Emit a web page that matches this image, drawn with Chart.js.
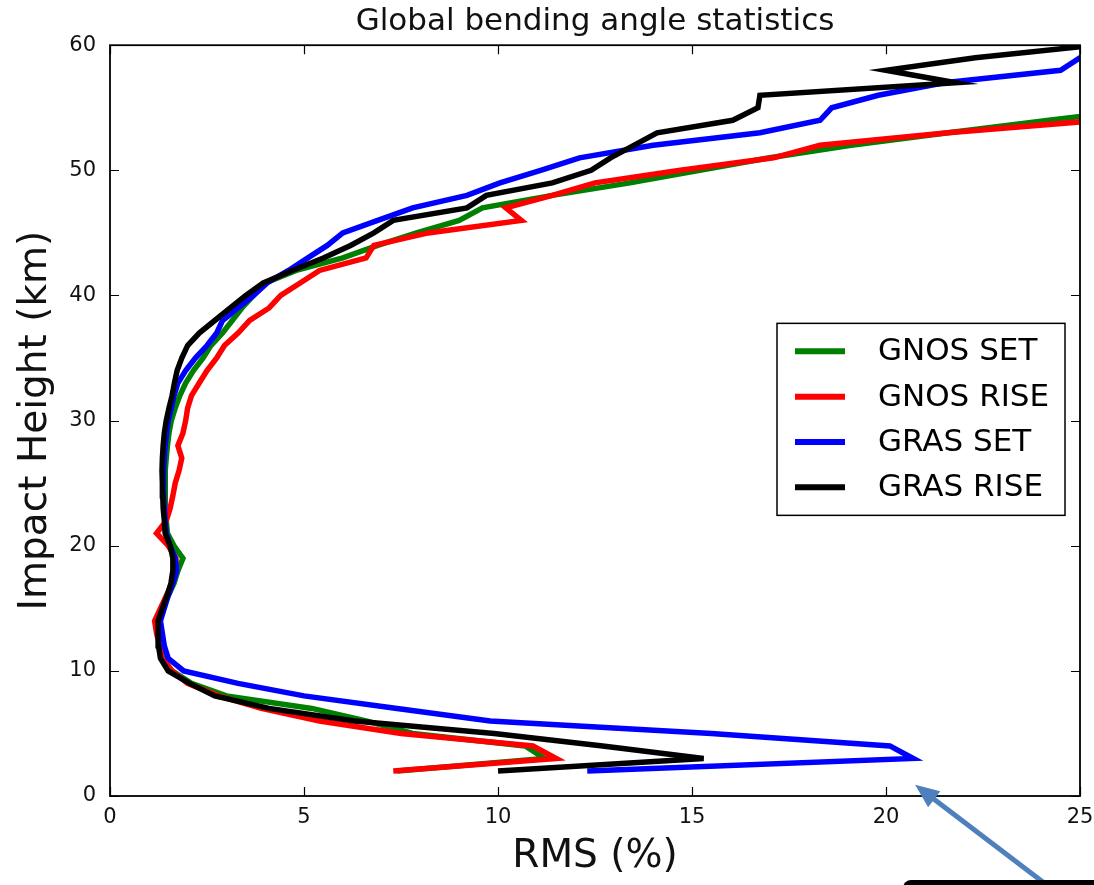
<!DOCTYPE html>
<html>
<head>
<meta charset="utf-8">
<title>Global bending angle statistics</title>
<script src="https://cdn.jsdelivr.net/npm/chart.js@4.4.1/dist/chart.umd.min.js"></script>
<style>
  html, body { margin: 0; padding: 0; background: #fff; }
  #wrap { width: 1094px; height: 885px; }
</style>
</head>
<body>
<div id="wrap"><canvas id="myChart" width="1094" height="885"></canvas></div>
<script>
// impact height (km) for every profile point
var heightKm = [2, 3, 4, 5, 6, 7, 8, 9, 10, 11, 12, 13, 14, 15, 16, 17, 18, 19, 20,
  21, 22, 23, 24, 25, 26, 27, 28, 29, 30, 31, 32, 33, 34, 35, 36, 37, 38, 39, 40,
  41, 42, 43, 44, 45, 46, 47, 48, 49, 50, 51, 52, 53, 54, 55, 56, 57, 58, 59, 60];

// RMS (%), one value per height above
var gnosSet = [7.4, 11.2, 10.7, 7.8, 6.6, 5.2, 3.0, 2.1, 1.6, 1.35, 1.28, 1.25, 1.22, 1.35, 1.5, 1.65, 1.75, 1.88, 1.65,
  1.48, 1.45, 1.43, 1.42, 1.42, 1.43, 1.45, 1.48, 1.52, 1.58, 1.68, 1.8, 1.95, 2.15, 2.4, 2.6, 2.9, 3.15, 3.4, 3.7,
  4.0, 4.8, 6.0, 6.9, 7.9, 9.0, 9.6, 11.4, 13.4, 15.2, 17.0, 19.1, 21.6, 24.2, 26.8];
var gnosRise = [7.3, 11.5, 10.9, 7.5, 5.4, 3.9, 2.8, 2.0, 1.6, 1.35, 1.28, 1.2, 1.15, 1.3, 1.45, 1.6, 1.7, 1.7, 1.5,
  1.2, 1.45, 1.55, 1.62, 1.68, 1.78, 1.85, 1.75, 1.88, 1.95, 2.0, 2.1, 2.3, 2.5, 2.75, 2.95, 3.3, 3.6, 4.1, 4.4,
  4.9, 5.4, 6.6, 6.8, 8.2, 10.6, 10.2, 11.4, 12.5, 14.7, 17.1, 18.3, 21.6, 25.5];
var grasSet = [12.3, 20.7, 20.1, 15.5, 9.8, 7.4, 5.0, 3.3, 1.9, 1.5, 1.4, 1.35, 1.3, 1.4, 1.5, 1.62, 1.72, 1.68, 1.55,
  1.45, 1.42, 1.4, 1.38, 1.38, 1.38, 1.4, 1.42, 1.46, 1.5, 1.58, 1.65, 1.75, 1.95, 2.2, 2.5, 2.75, 2.9, 3.3, 3.7,
  4.05, 4.6, 5.1, 5.6, 6.0, 6.9, 7.8, 9.2, 10.05, 11.1, 12.1, 14.0, 16.75, 18.3, 18.6, 19.8, 21.5, 24.5, 25.0, 26.0];
var grasRise = [10.0, 15.3, 12.7, 9.9, 6.3, 4.1, 2.7, 2.05, 1.5, 1.3, 1.25, 1.24, 1.24, 1.35, 1.47, 1.57, 1.62, 1.62, 1.55,
  1.42, 1.4, 1.37, 1.36, 1.35, 1.34, 1.35, 1.37, 1.4, 1.45, 1.52, 1.6, 1.66, 1.73, 1.85, 2.0, 2.3, 2.7, 3.1, 3.5,
  3.95, 4.7, 5.5, 6.2, 6.8, 7.3, 9.2, 9.7, 11.4, 12.4, 12.9, 13.5, 14.1, 16.05, 16.7, 16.75, 21.8, 20.0, 22.3, 25.4];

var xTicks = [0, 5, 10, 15, 20, 25];
var yTicks = [0, 10, 20, 30, 40, 50, 60];

var fontFamily = "'DejaVu Sans', sans-serif";

function profile(values) {
  return values.map(function(v, i) { return { x: v, y: heightKm[i] }; });
}

function makeSet(label, values, color, order) {
  return {
    label: label,
    data: profile(values),
    borderColor: color,
    backgroundColor: color,
    borderWidth: 5.5,
    pointRadius: 0,
    showLine: true,
    tension: 0,
    clip: 0,
    order: order
  };
}

/* box, inward ticks, legend and the arrow note */
var framePlugin = {
  id: 'frame',
  afterDraw: function(chart) {
    var ctx = chart.ctx;
    var a = chart.chartArea;
    var xs = chart.scales.x;
    var ys = chart.scales.y;
    ctx.save();

    // inward ticks on all four sides
    ctx.strokeStyle = '#000';
    ctx.lineWidth = 1.2;
    ctx.beginPath();
    xTicks.forEach(function(t) {
      var px = Math.round(xs.getPixelForValue(t)) + 0.5;
      ctx.moveTo(px, a.bottom); ctx.lineTo(px, a.bottom - 9);
      ctx.moveTo(px, a.top); ctx.lineTo(px, a.top + 9);
    });
    yTicks.forEach(function(t) {
      var py = Math.round(ys.getPixelForValue(t)) + 0.5;
      ctx.moveTo(a.left, py); ctx.lineTo(a.left + 9, py);
      ctx.moveTo(a.right, py); ctx.lineTo(a.right - 9, py);
    });
    ctx.stroke();

    // axes box
    ctx.lineWidth = 1.8;
    ctx.strokeRect(a.left, a.top, a.right - a.left, a.bottom - a.top);

    // legend box inside the axes
    var boxW = 288, boxH = 192;
    var bx = a.right - 15 - boxW;
    var by = ys.getPixelForValue(30.1) - boxH / 2;
    ctx.fillStyle = '#fff';
    ctx.fillRect(bx, by, boxW, boxH);
    ctx.lineWidth = 1.5;
    ctx.strokeStyle = '#000';
    ctx.strokeRect(bx, by, boxW, boxH);
    ctx.font = '31px ' + fontFamily;
    ctx.textBaseline = 'middle';
    ctx.textAlign = 'left';
    chart.data.datasets.forEach(function(ds, i) {
      var ly = by + 28 + i * 45.3;
      ctx.strokeStyle = ds.borderColor;
      ctx.lineWidth = 6;
      ctx.beginPath();
      ctx.moveTo(bx + 18, ly);
      ctx.lineTo(bx + 68, ly);
      ctx.stroke();
      ctx.fillStyle = '#000';
      ctx.fillText(ds.label, bx + 101, ly + 1);
    });

    // arrow pointing at the GRAS SET peak
    var tipX = xs.getPixelForValue(20.75);
    var tipY = ys.getPixelForValue(0.9);
    var tailX = tipX + 134, tailY = tipY + 102;
    var ang = Math.atan2(tipY - tailY, tipX - tailX);
    ctx.strokeStyle = '#4f7fbd';
    ctx.fillStyle = '#4f7fbd';
    ctx.lineWidth = 5;
    ctx.beginPath();
    ctx.moveTo(tailX, tailY);
    ctx.lineTo(tipX - 16 * Math.cos(ang), tipY - 16 * Math.sin(ang));
    ctx.stroke();
    ctx.beginPath();
    ctx.moveTo(tipX, tipY);
    ctx.lineTo(tipX - 24 * Math.cos(ang) + 10 * Math.sin(ang), tipY - 24 * Math.sin(ang) - 10 * Math.cos(ang));
    ctx.lineTo(tipX - 24 * Math.cos(ang) - 10 * Math.sin(ang), tipY - 24 * Math.sin(ang) + 10 * Math.cos(ang));
    ctx.closePath();
    ctx.fill();

    // edge of the note box cut by the bottom of the picture
    ctx.fillStyle = '#000';
    ctx.beginPath();
    ctx.roundRect(tipX - 12, chart.height - 5, 220, 30, 8);
    ctx.fill();

    ctx.restore();
  }
};

var canvas = document.getElementById('myChart');
var chart = new Chart(canvas, {
  type: 'scatter',
  data: {
    datasets: [
      makeSet('GNOS SET', gnosSet, '#008000', 3),
      makeSet('GNOS RISE', gnosRise, '#ff0000', 2),
      makeSet('GRAS SET', grasSet, '#0000ff', 1),
      makeSet('GRAS RISE', grasRise, '#000000', 0)
    ]
  },
  options: {
    responsive: false,
    animation: false,
    layout: { padding: 0 },
    plugins: {
      legend: { display: false },
      tooltip: { enabled: false },
      title: {
        display: true,
        text: 'Global bending angle statistics',
        fullSize: false,
        color: '#111',
        font: { family: fontFamily, size: 31, weight: 'normal' },
        padding: { top: 3, bottom: 5 }
      }
    },
    scales: {
      x: {
        type: 'linear',
        min: 0,
        max: 25,
        grid: { display: false, drawTicks: false },
        border: { display: false },
        afterBuildTicks: function(axis) { axis.ticks = xTicks.map(function(v) { return { value: v }; }); },
        afterFit: function(axis) {
          axis.height = 89;
          axis.paddingLeft = 0;
          axis.paddingRight = 14;
        },
        ticks: { color: '#111', padding: 9, font: { family: fontFamily, size: 21 } },
        title: {
          display: true,
          text: 'RMS (%)',
          color: '#111',
          font: { family: fontFamily, size: 39 },
          padding: { top: 0, bottom: 5 }
        }
      },
      y: {
        type: 'linear',
        min: 0,
        max: 60,
        grid: { display: false, drawTicks: false },
        border: { display: false },
        afterBuildTicks: function(axis) { axis.ticks = yTicks.map(function(v) { return { value: v }; }); },
        afterFit: function(axis) { axis.width = 110; },
        ticks: { color: '#111', padding: 14, font: { family: fontFamily, size: 21 } },
        title: {
          display: true,
          text: 'Impact Height (km)',
          color: '#111',
          font: { family: fontFamily, size: 39 },
          padding: { top: 12 }
        }
      }
    }
  },
  plugins: [framePlugin]
});
</script>
</body>
</html>
